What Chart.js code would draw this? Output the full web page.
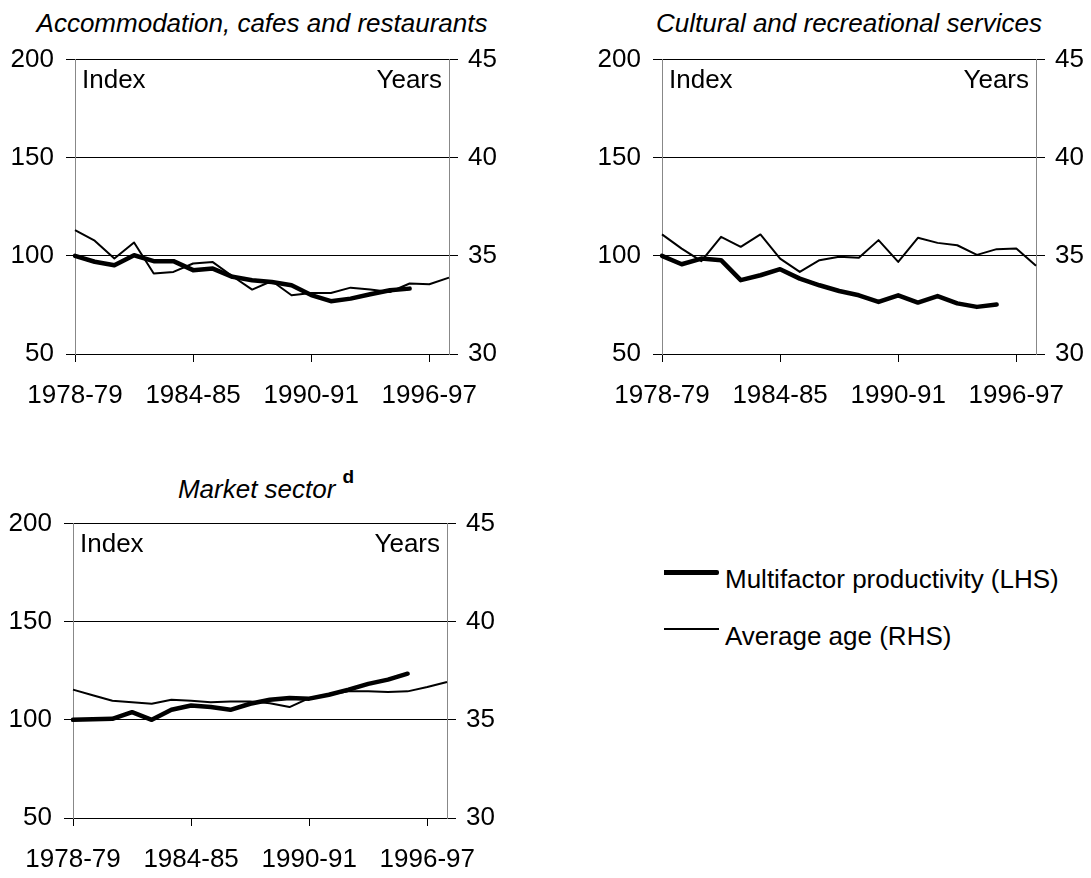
<!DOCTYPE html>
<html>
<head>
<meta charset="utf-8">
<script src="https://cdn.jsdelivr.net/npm/chart.js@4.4.1/dist/chart.umd.min.js"></script>
<style>
  html, body { margin: 0; padding: 0; background: #fff; overflow: hidden; }
  body { width: 1091px; height: 878px; position: relative; font-family: 'Liberation Sans', Arial, sans-serif; color: #000; }
  .panel { position: absolute; }
  .title { position: absolute; width: 600px; text-align: center; font-size: 26px; line-height: 30px; font-style: italic; white-space: nowrap; }
  .title sup { font-style: normal; font-weight: bold; font-size: 19px; vertical-align: 15px; margin-left: 7px; line-height: 0; }
  .key-line { position: absolute; left: 664px; width: 55px; background: #000; }
  .key-text { position: absolute; left: 725px; font-size: 26px; line-height: 30px; white-space: nowrap; }
</style>
</head>
<body>

<!-- titles centred on each plot area (600px boxes around the plot centre) -->
<div class="title" style="left:-38px; top:8px;">Accommodation, cafes and restaurants</div>
<div class="title" style="left:549px; top:8px;">Cultural and recreational services</div>
<div class="title" style="left:-34px; top:474px;">Market sector<sup>d</sup></div>

<div class="panel" style="left:0; top:0;"><canvas id="chart-accommodation" width="504" height="414"></canvas></div>
<div class="panel" style="left:587px; top:0;"><canvas id="chart-cultural" width="504" height="414"></canvas></div>
<div class="panel" style="left:-2px; top:464px;"><canvas id="chart-market" width="504" height="414"></canvas></div>

<div class="key-line" style="top:570px; height:5px; border-radius: 0 2px 2px 0;"></div>
<div class="key-text" style="top:564px;">Multifactor productivity (LHS)</div>
<div class="key-line" style="top:628px; height:2px;"></div>
<div class="key-text" style="top:621px;">Average age (RHS)</div>

<script>
/* ============================
   DATA
   ============================ */
const years = ['1978-79','1979-80','1980-81','1981-82','1982-83','1983-84','1984-85','1985-86','1986-87','1987-88',
               '1988-89','1989-90','1990-91','1991-92','1992-93','1993-94','1994-95','1995-96','1996-97','1997-98'];
const shownYears = ['1978-79','1984-85','1990-91','1996-97'];
const indexTicks = [50, 100, 150, 200];
const ageTicks = [30, 35, 40, 45];

// Multifactor productivity index (LHS), 1978-79 = 100
const accomMfp   = [100, 97, 95.2, 100.3, 97.3, 97.3, 92.7, 93.5, 89.3, 87.6, 86.7, 85, 80, 76.9, 78.2, 80.4, 82.5, 83.3];
const culturalMfp = [100, 95.7, 98.6, 97.8, 87.6, 90.1, 93.2, 88.4, 85, 82.1, 79.9, 76.5, 79.9, 76.2, 79.5, 75.8, 74, 75.2];
const marketMfp  = [100, 100.3, 100.5, 103.9, 100, 105.1, 107.3, 106.5, 105.1, 108.2, 110.2, 111.1, 110.8, 112.8, 115.4, 118.3, 120.5, 123.5];

// Average age of capital, years (RHS)
const accomAge    = [36.31, 35.77, 34.86, 35.68, 34.1, 34.18, 34.61, 34.68, 33.96, 33.28, 33.72, 32.99, 33.11, 33.11, 33.38, 33.28, 33.16, 33.59, 33.55, 33.89];
const culturalAge = [36.09, 35.37, 34.73, 35.97, 35.46, 36.09, 34.86, 34.18, 34.78, 34.95, 34.9, 35.8, 34.69, 35.92, 35.66, 35.54, 35.05, 35.34, 35.37, 34.49];
const marketAge   = [36.54, 36.25, 35.97, 35.9, 35.82, 36.02, 35.97, 35.89, 35.94, 35.94, 35.85, 35.65, 36.11, 36.28, 36.45, 36.45, 36.42, 36.45, 36.67, 36.93];

/* ============================
   CHART SETUP
   ============================ */
Chart.defaults.font.family = "'Liberation Sans', Arial, sans-serif";
Chart.defaults.font.size = 26;
Chart.defaults.color = '#000';

// "Index" / "Years" captions inside the plot area
const cornerLabels = {
  id: 'cornerLabels',
  afterDraw(chart) {
    const { ctx, chartArea } = chart;
    ctx.save();
    ctx.font = "26px 'Liberation Sans', Arial, sans-serif";
    ctx.fillStyle = '#000';
    ctx.textBaseline = 'alphabetic';
    ctx.textAlign = 'left';
    ctx.fillText('Index', chartArea.left + 7, chartArea.top + 28);
    ctx.textAlign = 'right';
    ctx.fillText('Years', chartArea.right - 7, chartArea.top + 28);
    ctx.restore();
  }
};

function makePanel(canvasId, mfp, age) {
  const el = document.getElementById(canvasId);
  return new Chart(el, {
    type: 'line',
    data: {
      labels: years,
      datasets: [
        { label: 'Multifactor productivity (LHS)', data: mfp, yAxisID: 'y', borderColor: '#000', borderWidth: 4.5,
          pointRadius: 0, tension: 0, borderJoinStyle: 'round', borderCapStyle: 'round' },
        { label: 'Average age (RHS)', data: age, yAxisID: 'y1', borderColor: '#000', borderWidth: 2,
          pointRadius: 0, tension: 0, borderJoinStyle: 'round' }
      ]
    },
    options: {
      responsive: false,
      animation: false,
      layout: { padding: { top: 59.5, left: 0, right: 0, bottom: 0 } },
      plugins: { legend: { display: false }, tooltip: { enabled: false } },
      scales: {
        x: {
          offset: false,
          grid: { drawOnChartArea: false, color: '#000', tickLength: 8 },
          border: { color: '#000' },
          ticks: {
            autoSkip: false, maxRotation: 0, padding: 18,
            callback(value) { const lab = this.getLabelForValue(value); return shownYears.includes(lab) ? lab : null; }
          },
          afterFit(scale) { scale.height = 60; }
        },
        y: {
          position: 'left', min: 50, max: 200,
          afterBuildTicks(scale) { scale.ticks = indexTicks.map(v => ({ value: v })); },
          grid: { color: '#000', tickLength: 9 },
          border: { color: '#888' },
          ticks: { padding: 12 },
          afterFit(scale) { scale.width = 75; }
        },
        y1: {
          position: 'right', min: 30, max: 45,
          afterBuildTicks(scale) { scale.ticks = ageTicks.map(v => ({ value: v })); },
          grid: { drawOnChartArea: false, color: '#000', tickLength: 9 },
          border: { color: '#888' },
          ticks: { padding: 10 },
          afterFit(scale) { scale.width = 55; }
        }
      }
    },
    plugins: [cornerLabels]
  });
}

makePanel('chart-accommodation', accomMfp, accomAge);
makePanel('chart-cultural', culturalMfp, culturalAge);
makePanel('chart-market', marketMfp, marketAge);
</script>
</body>
</html>
